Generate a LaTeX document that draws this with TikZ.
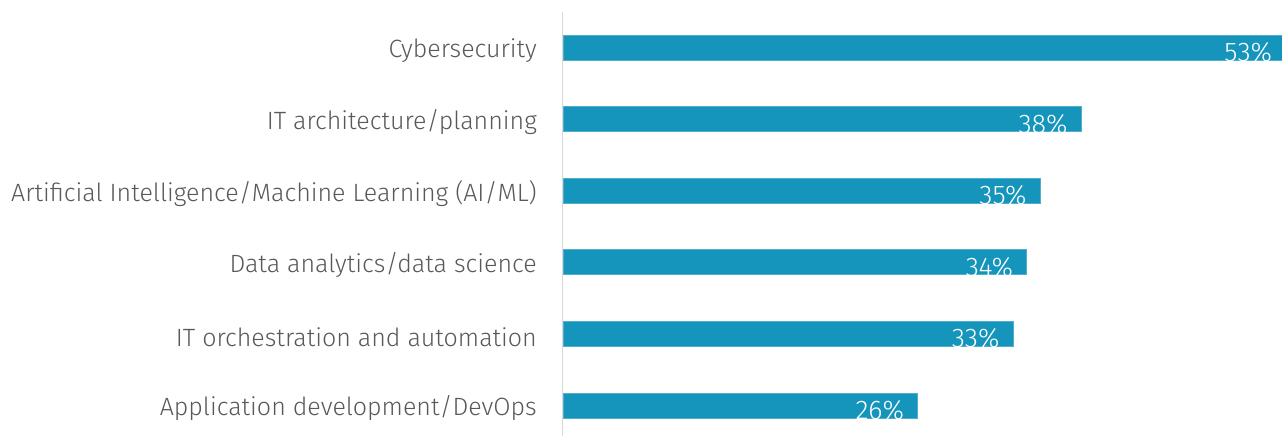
\documentclass[tikz,border=0pt]{standalone}
\usepackage{fontspec}
\setmainfont{Fira Sans}[UprightFont=* Light]
\usetikzlibrary{positioning}
\definecolor{barblue}{HTML}{1595BB}
\definecolor{catgray}{HTML}{595959}
\definecolor{axisgray}{HTML}{D9D9D9}

\begin{document}
\begin{tikzpicture}[x = 1pt, y = -1pt]
\tikzstyle{BarStyle}=[fill = barblue,
                      draw = barblue!75!white,
                      line width = 0.8pt,
                      inner sep = 0pt,
                      minimum height = 25pt,
                      anchor = west]
\tikzstyle{CatStyle}=[text = catgray,
                      font = \fontsize{25}{29}\selectfont,
                      inner sep = 0pt,
                      yshift = -3pt]
\tikzstyle{PctStyle}=[text = white,
                      font = \fontsize{27}{31}\selectfont,
                      inner sep = 0pt,
                      anchor = base east]
\useasboundingbox (0,0) rectangle (1282,436);
\coordinate (axistop) at (562.5,12);
\coordinate (axisbottom) at (562.5,436);
\draw[axisgray, line width = 1.5pt] (axistop) -- (axisbottom);
\node[BarStyle, minimum width = 722.4pt] (cyber) at (563,47.5) {};
\node[BarStyle, minimum width = 518pt] (arch) at (563,119.1) {};
\node[BarStyle, minimum width = 477pt] (aiml) at (563,190.7) {};
\node[BarStyle, minimum width = 463.4pt] (data) at (563,262.3) {};
\node[BarStyle, minimum width = 449.8pt] (orch) at (563,333.9) {};
\node[BarStyle, minimum width = 354.4pt] (devops) at (563,405.5) {};
\node[CatStyle, left = 26pt of cyber] (cyberlabel) {Cybersecurity};
\node[CatStyle, left = 26pt of arch] (archlabel) {IT architecture/planning};
\node[CatStyle, left = 26pt of aiml] (aimllabel) {Artificial Intelligence/Machine Learning (AI/ML)};
\node[CatStyle, left = 26pt of data] (datalabel) {Data analytics/data science};
\node[CatStyle, left = 26pt of orch] (orchlabel) {IT orchestration and automation};
\node[CatStyle, left = 26pt of devops] (devopslabel) {Application development/DevOps};
\node[PctStyle] (cyberpct) at ([xshift = -14pt, yshift = -1pt]cyber.south east) {53\%};
\node[PctStyle] (archpct) at ([xshift = -14pt, yshift = -1pt]arch.south east) {38\%};
\node[PctStyle] (aimlpct) at ([xshift = -14pt, yshift = -1pt]aiml.south east) {35\%};
\node[PctStyle] (datapct) at ([xshift = -14pt, yshift = -1pt]data.south east) {34\%};
\node[PctStyle] (orchpct) at ([xshift = -14pt, yshift = -1pt]orch.south east) {33\%};
\node[PctStyle] (devopspct) at ([xshift = -14pt, yshift = -1pt]devops.south east) {26\%};
\end{tikzpicture}
\end{document}
